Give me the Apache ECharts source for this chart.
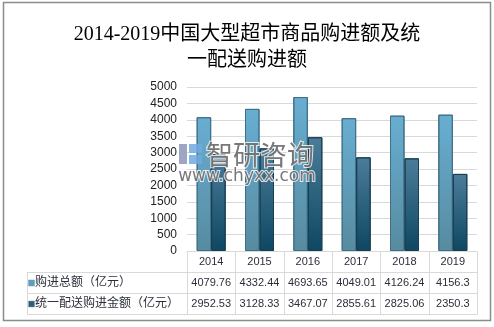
<!DOCTYPE html>
<html>
<head>
<meta charset="utf-8">
<script src="https://cdn.jsdelivr.net/npm/echarts@6/dist/echarts.min.js"></script>
<style>
html,body{margin:0;padding:0;background:#fff;}
#main{width:494px;height:327px;}
</style>
</head>
<body>
<div id="main"></div>
<script>
// Purchases of large supermarkets in China, 2014-2019 (100 million yuan)
const years = ['2014', '2015', '2016', '2017', '2018', '2019'];
const totalPurchase = [4079.76, 4332.44, 4693.65, 4049.01, 4126.24, 4156.3];
const unifiedDelivery = [2952.53, 3128.33, 3467.07, 2855.61, 2825.06, 2350.3];
const seriesNames = ['购进总额（亿元）', '统一配送购进金额（亿元）'];
const yTicks = [0, 500, 1000, 1500, 2000, 2500, 3000, 3500, 4000, 4500, 5000];

const chart = echarts.init(document.getElementById('main'), null, {renderer: 'canvas'});

const gridLeft = 187, gridRight = 17, gridTop = 87, gridBottom = 76;
const plotBottom = 327 - gridBottom;   // y of the value 0
const rowH = 21;
const tableLeft = 27;

const serifFont = '"Liberation Serif", "DejaVu Serif", "Noto Sans CJK SC", serif';
const tableFont = '"Liberation Sans", "Noto Sans CJK SC", sans-serif';
const textColor = '#2b2f3a';

const grad1 = new echarts.graphic.LinearGradient(0, 0, 0, 1, [
  {offset: 0, color: '#68aed2'},
  {offset: 1, color: '#578b9f'}
]);
const grad2 = new echarts.graphic.LinearGradient(0, 0, 0, 1, [
  {offset: 0, color: '#4b7d9b'},
  {offset: 1, color: '#0e4762'}
]);

chart.setOption({
  animation: false,
  backgroundColor: '#fff',
  title: {
    text: '2014-2019中国大型超市商品购进额及统\n一配送购进额',
    left: 'center',
    top: 17,
    textStyle: {fontFamily: serifFont, fontSize: 20, fontWeight: 'normal', color: '#000', lineHeight: 26}
  },
  grid: {left: gridLeft, right: gridRight, top: gridTop, bottom: gridBottom},
  xAxis: {
    type: 'category',
    data: years,
    axisLine: {show: true, lineStyle: {color: '#d9d9d9'}},
    axisTick: {show: false},
    axisLabel: {show: false}
  },
  yAxis: {
    type: 'value',
    min: yTicks[0],
    max: yTicks[yTicks.length - 1],
    interval: 500,
    axisLine: {show: false},
    axisTick: {show: false},
    axisLabel: {color: '#222', fontSize: 12, fontFamily: tableFont, margin: 10,
      formatter: v => String(v)},
    splitLine: {lineStyle: {color: '#d9d9d9', width: 1}}
  },
  series: [
    {
      name: seriesNames[0], type: 'bar', data: totalPurchase,
      barGap: '0%', barCategoryGap: '40%',
      itemStyle: {color: grad1, borderColor: '#3f6f86', borderWidth: 1}
    },
    {
      name: seriesNames[1], type: 'bar', data: unifiedDelivery,
      itemStyle: {color: grad2, borderColor: '#173e52', borderWidth: 1}
    }
  ]
});

// Data table under the plot, laid out on the category axis
function buildTable() {
  const els = [];
  const lineStyle = {stroke: '#d9d9d9', lineWidth: 1};
  const right = 494 - gridRight;
  const bandW = (right - gridLeft) / years.length;
  const y0 = plotBottom + 0.5;
  const y1 = y0 + rowH, y2 = y1 + rowH, y3 = y2 + rowH;

  // horizontal rules
  els.push({type: 'line', shape: {x1: tableLeft, y1: y1, x2: right, y2: y1}, style: lineStyle});
  els.push({type: 'line', shape: {x1: tableLeft, y1: y2, x2: right, y2: y2}, style: lineStyle});
  els.push({type: 'line', shape: {x1: tableLeft, y1: y3, x2: right, y2: y3}, style: lineStyle});
  // vertical rules
  els.push({type: 'line', shape: {x1: tableLeft + 0.5, y1: y1, x2: tableLeft + 0.5, y2: y3}, style: lineStyle});
  for (let i = 0; i <= years.length; i++) {
    const x = Math.round(gridLeft + i * bandW) + 0.5;
    els.push({type: 'line', shape: {x1: x, y1: y0, x2: x, y2: y3}, style: lineStyle});
  }

  const rows = [totalPurchase, unifiedDelivery];
  years.forEach((yr, i) => {
    const cx = chart.convertToPixel({xAxisIndex: 0}, yr);
    els.push({type: 'text', x: cx, y: (y0 + y1) / 2,
      style: {text: yr, fill: textColor, font: '11px ' + tableFont, align: 'center', verticalAlign: 'middle'}});
    rows.forEach((arr, r) => {
      const yc = (r === 0 ? (y1 + y2) : (y2 + y3)) / 2;
      els.push({type: 'text', x: cx, y: yc,
        style: {text: String(arr[i]), fill: textColor, font: '11px ' + tableFont, align: 'center', verticalAlign: 'middle'}});
    });
  });

  // legend keys and series names
  const keyColors = ['#5b9fc3', '#2f5f78'];
  seriesNames.forEach((name, r) => {
    const yc = (r === 0 ? (y1 + y2) : (y2 + y3)) / 2;
    els.push({type: 'rect', shape: {x: tableLeft + 1.5, y: yc - 3, width: 6, height: 6},
      style: {fill: keyColors[r], stroke: '#7a9aac', lineWidth: 0.5}});
    els.push({type: 'text', x: tableLeft + 8, y: yc,
      style: {text: name, fill: textColor, font: '12px ' + tableFont, align: 'left', verticalAlign: 'middle'}});
  });

  // outer frame
  els.push({type: 'rect', shape: {x: 3.5, y: 2.5, width: 487, height: 318},
    style: {fill: null, stroke: '#8c8c8c', lineWidth: 1.5}, z: 10});

  // watermark
  els.push({type: 'rect', shape: {x: 179, y: 144, width: 8, height: 20},
    style: {fill: 'rgba(140,150,185,0.85)'}, z: 20});
  els.push({type: 'rect', shape: {x: 189, y: 144, width: 13, height: 9},
    style: {fill: 'rgba(110,170,225,0.85)'}, z: 20});
  els.push({type: 'rect', shape: {x: 189, y: 155, width: 13, height: 9},
    style: {fill: 'rgba(110,170,225,0.85)'}, z: 20});
  els.push({type: 'text', x: 206, y: 155, z: 20,
    style: {text: '智研咨询', fill: 'rgba(95,95,95,0.85)', stroke: 'rgba(255,255,255,0.8)', lineWidth: 2,
      font: '27px "Noto Sans CJK SC", sans-serif', align: 'left', verticalAlign: 'middle'}});
  els.push({type: 'text', x: 247, y: 177, z: 20,
    style: {text: 'www.chyxx.com', fill: 'rgba(95,95,95,0.85)', stroke: 'rgba(255,255,255,0.8)', lineWidth: 2,
      font: '17px "DejaVu Sans", sans-serif', align: 'center', verticalAlign: 'middle'}});

  chart.setOption({graphic: {elements: els}});
}
buildTable();
</script>
</body>
</html>
